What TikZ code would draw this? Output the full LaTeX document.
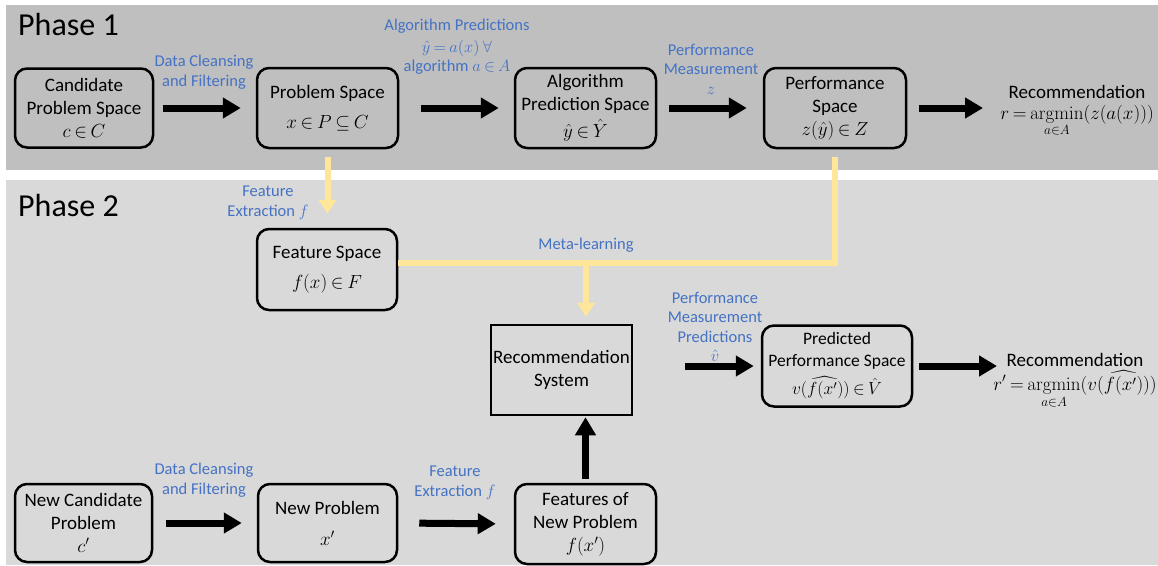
\RequirePackage{fix-cm}
\documentclass[tikz,border=0pt]{standalone}
\usepackage{amsmath}
\usepackage[no-math]{fontspec}
\setmainfont{Carlito}
\usetikzlibrary{arrows.meta}
\thickmuskip=3.5mu plus 2mu
\medmuskip=3mu plus 1mu
\definecolor{pone}{HTML}{BFBFBF}
\definecolor{ptwo}{HTML}{D9D9D9}
\definecolor{lblue}{HTML}{4472C4}
\definecolor{yel}{HTML}{FFE699}
\tikzset{
  box/.style={draw=black, line width=2.5pt, rounded corners=12pt, align=center, inner sep=2pt,
    font=\fontsize{19}{23}\selectfont},
  sqbox/.style={draw=black, line width=2.5pt, align=center, inner sep=2pt,
    font=\fontsize{19}{23}\selectfont},
  plain/.style={align=center, inner sep=0pt, font=\fontsize{19}{24}\selectfont},
  lab/.style={align=center, inner sep=0pt, text=lblue, font=\fontsize{16.5}{19.5}\selectfont},
  title/.style={anchor=west, inner sep=0pt, font=\fontsize{32}{36}\selectfont},
  barrow/.style={draw=black, line width=7pt, -{Triangle[length=18pt,width=20pt]}},
  yline/.style={draw=yel, line width=6pt},
  yarrow/.style={yline, -{Triangle[length=14pt,width=17pt]}},
}
\begin{document}
\begin{tikzpicture}[x=1pt,y=-1pt]
\useasboundingbox (0,0) rectangle (1158,565);
\fill[pone] (6,5) rectangle (1158,170);
\fill[ptwo] (6,180) rectangle (1158,565);

\node[title] (t1) at (18,25) {Phase 1};
\node[title] (t2) at (18,206) {Phase 2};

% Phase 1
\node[box, minimum width=138pt, minimum height=79pt] (cand) at (84,108)
  {Candidate\\Problem Space\\$c \in C$};
\node[box, minimum width=141pt, minimum height=80pt] (prob) at (327.5,108)
  {Problem Space\\[7pt]$x \in P \subseteq C$};
\node[box, minimum width=141pt, minimum height=80pt] (alg) at (585.5,108)
  {Algorithm\\Prediction Space\\[4pt]$\hat{y} \in \hat{Y}$};
\node[box, minimum width=142pt, minimum height=80pt] (perf) at (835,108)
  {Performance\\Space\\$z(\hat{y}) \in Z$};
\node[plain] (rec1) at (1077,111)
  {Recommendation\\[-3pt]$\displaystyle r=\operatorname*{argmin}_{a\in A}(z(a(x)))$};
\coordinate (r1in) at (983,108);

\node[lab] (l1) at (204,72) {Data Cleansing\\and Filtering};
\node[lab] (l2) at (457,47) {Algorithm Predictions\\[2pt]$\hat{y}=a(x)\;\forall$\\algorithm $a \in A$};
\node[lab] (l3) at (711,69) {Performance\\Measurement\\$z$};

\draw[barrow, shorten <=9pt, shorten >=15pt] (cand.east) -- (prob.west);
\draw[barrow, shorten <=22pt, shorten >=15pt] (prob.east) -- (alg.west);
\draw[barrow, shorten <=12pt, shorten >=16pt] (alg.east) -- (perf.west);
\draw[barrow, shorten <=12pt] (perf.east) -- (r1in);

% Phase 2
\node[box, minimum width=140pt, minimum height=81pt] (feat) at (327,269.5)
  {Feature Space\\[7pt]$f(x) \in F$};
\node[sqbox, minimum width=127pt, minimum height=90pt] (recsys) at (561.5,370)
  {Recommendation\\System};
\node[box, minimum width=150pt, minimum height=81pt, font=\fontsize{17.5}{22}\selectfont] (pred) at (837,366)
  {Predicted\\Performance Space\\[6pt]$v(\widehat{f(x')}) \in \hat{V}$};
\node[plain] (rec2) at (1075,381)
  {Recommendation\\[0pt]$\displaystyle r'=\operatorname*{argmin}_{a\in A}(v(\widehat{f(x')}))$};
\coordinate (r2in) at (997,366);

\node[box, minimum width=137pt, minimum height=78pt] (ncand) at (83.5,523)
  {New Candidate\\Problem\\$c'$};
\node[box, minimum width=139pt, minimum height=78pt] (nprob) at (327.5,523)
  {New Problem\\[8pt]$x'$};
\node[box, minimum width=141pt, minimum height=80pt] (nfeat) at (585.5,524)
  {Features of\\New Problem\\$f(x')$};

\node[lab] (l4) at (268,203) {Feature\\Extraction $f$};
\node[lab] (l5) at (586,245) {Meta-learning};
\node[lab] (l6) at (715,327) {Performance\\Measurement\\Predictions\\$\hat{v}$};
\node[lab] (l7) at (204,480) {Data Cleansing\\and Filtering};
\node[lab] (l8) at (455,483) {Feature\\Extraction $f$};

\coordinate (ml) at (586,263);

% yellow connectors
\draw[yarrow, shorten <=8pt, shorten >=14pt] (prob.south) -- (prob.south |- feat.north);
\draw[yline, line join=miter] ([yshift=-8pt]perf.south) |- (feat.east |- ml);
\draw[yarrow, shorten >=7pt] (ml) -- (ml |- recsys.north);

% black connectors phase 2
\draw[barrow, shorten <=52pt, shorten >=7pt] (recsys.east |- pred.west) -- (pred.west);
\draw[barrow, shorten <=6pt] (pred.east) -- (r2in);
\draw[barrow, shorten <=13pt, shorten >=15pt] (ncand.east) -- (nprob.west);
\draw[barrow, shorten <=21pt, shorten >=18pt] (nprob.east) -- (nfeat.west);
\draw[barrow, shorten <=4pt, shorten >=1pt] (nfeat.north) -- (nfeat.north |- recsys.south);
\end{tikzpicture}
\end{document}
